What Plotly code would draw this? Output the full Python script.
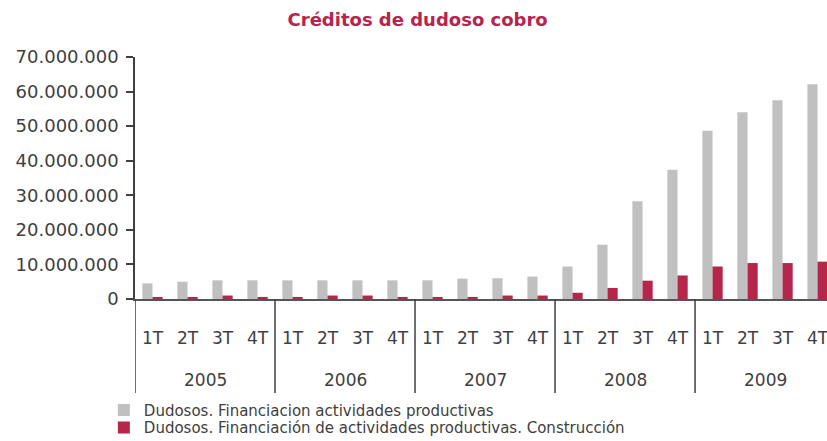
import plotly.graph_objects as go

years = ["2005", "2006", "2007", "2008", "2009"]
quarters = ["1T", "2T", "3T", "4T"]

series_names = [
    "Dudosos. Financiacion actividades productivas",
    "Dudosos. Financiación de actividades productivas. Construcción",
]

productivas = [4.5e6, 5.0e6, 5.4e6, 5.4e6,
               5.4e6, 5.4e6, 5.4e6, 5.4e6,
               5.4e6, 5.9e6, 6.0e6, 6.5e6,
               9.4e6, 15.7e6, 28.3e6, 37.4e6,
               48.7e6, 54.0e6, 57.5e6, 62.1e6]

construccion = [0.6e6, 0.6e6, 1.0e6, 0.6e6,
                0.6e6, 1.0e6, 1.0e6, 0.6e6,
                0.6e6, 0.6e6, 1.0e6, 1.0e6,
                1.8e6, 3.2e6, 5.3e6, 6.8e6,
                9.4e6, 10.4e6, 10.4e6, 10.8e6]

y_ticks = [0, 10e6, 20e6, 30e6, 40e6, 50e6, 60e6, 70e6]

GREY = "#C0C0C0"
RED = "#B5254C"
TXT = "#404040"
FONT = "DejaVu Sans"

nq = len(quarters)
n = len(years) * nq
xs = list(range(n))
tick_text = quarters * len(years)

fig = go.Figure()
fig.add_trace(go.Bar(x=xs, y=productivas, name=series_names[0], legend="legend",
                     marker=dict(color=GREY, line=dict(width=0))))
fig.add_trace(go.Bar(x=xs, y=construccion, name=series_names[1], legend="legend2",
                     marker=dict(color=RED, line=dict(width=0))))

# year labels below quarter labels
for i, yr in enumerate(years):
    center = i * nq + (nq - 1) / 2
    fig.add_annotation(x=center, xref="x", y=-0.335, yref="paper",
                       text=yr, showarrow=False, yanchor="middle",
                       font=dict(family=FONT, size=17, color=TXT))

# group dividers
for i in range(len(years)):
    bx = i * nq - 0.5
    fig.add_shape(type="line", xref="x", yref="paper",
                  x0=bx, x1=bx, y0=0, y1=-0.388,
                  line=dict(color=TXT, width=1.5))

legend_style = dict(orientation="v", x=-0.045, xanchor="left",
                    yref="container", yanchor="middle",
                    font=dict(family=FONT, size=15, color=TXT),
                    itemwidth=30, bgcolor="rgba(0,0,0,0)",
                    borderwidth=0)

fig.update_layout(
    width=827, height=441,
    margin=dict(l=135, r=0, t=57, b=142, pad=0),
    paper_bgcolor="white", plot_bgcolor="white",
    separators=",.",
    barmode="group", bargap=0.42, bargroupgap=0,
    title=dict(text="<b>Créditos de dudoso cobro</b>", x=0.505, xanchor="center",
               y=0.955, yanchor="middle",
               font=dict(family=FONT, size=18, color=RED)),
    font=dict(family=FONT, size=17, color=TXT),
    showlegend=True,
    legend=dict(legend_style, y=0.070),
    legend2=dict(legend_style, y=0.030),
)

fig.update_xaxes(
    range=[-0.5, 19.27], automargin=False,
    tickvals=xs, ticktext=tick_text, ticks="", ticklabelstandoff=23,
    ticklabeloverflow="allow",
    showline=True, linecolor="#555555", linewidth=1.5,
    tickfont=dict(family=FONT, size=17, color=TXT),
    showgrid=False, zeroline=False,
)
fig.update_yaxes(
    range=[0, 70e6], tickvals=y_ticks, tickformat=",d", automargin=False,
    showline=True, linecolor=TXT, linewidth=1.5,
    ticks="outside", ticklen=7, tickwidth=1.5, tickcolor=TXT,
    ticklabelstandoff=4,
    showgrid=False, zeroline=False,
    tickfont=dict(family=FONT, size=18, color=TXT),
)

fig.write_html("out.html", config={"displayModeBar": False},
               post_script="document.body.style.margin='0';document.body.style.padding='0';")
